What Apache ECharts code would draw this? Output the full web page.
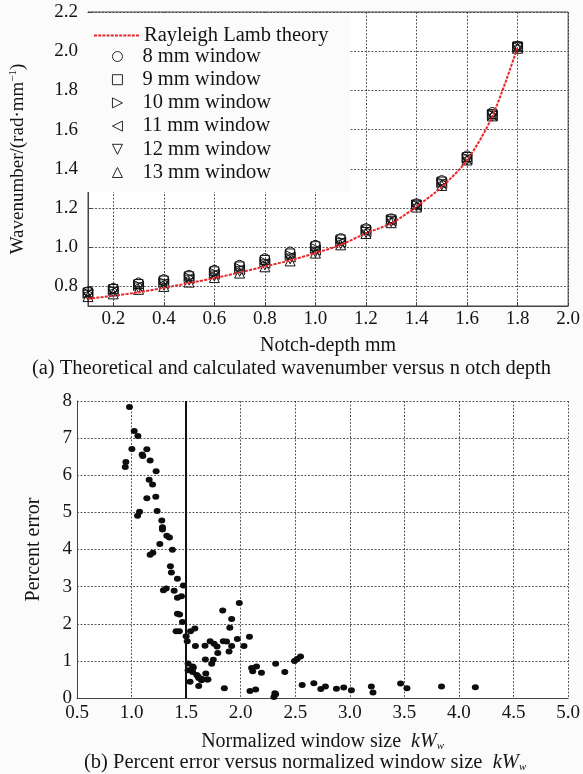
<!DOCTYPE html>
<html>
<head>
<meta charset="utf-8">
<script src="https://cdn.jsdelivr.net/npm/echarts@6/dist/echarts.min.js"></script>
<style>html,body{margin:0;padding:0;background:#fbfbfb;}#c{width:583px;height:774px;}</style>
</head>
<body>
<div id="c"></div>
<script>
// ---- Data (a) ----
var depth = [0.1,0.2,0.3,0.4,0.5,0.6,0.7,0.8,0.9,1.0,1.1,1.2,1.3,1.4,1.5,1.6,1.7,1.8];
var theory = [0.737,0.752,0.770,0.792,0.817,0.842,0.871,0.902,0.933,0.970,1.012,1.071,1.122,1.207,1.308,1.444,1.668,2.020];
var w8  = [0.775,0.792,0.820,0.837,0.859,0.885,0.910,0.944,0.978,1.012,1.046,1.097,1.147,1.224,1.342,1.468,1.690,2.028];
var w9  = [0.770,0.787,0.812,0.830,0.852,0.877,0.902,0.935,0.968,1.005,1.040,1.090,1.142,1.218,1.335,1.460,1.680,2.025];
var w10 = [0.765,0.780,0.805,0.820,0.845,0.868,0.893,0.925,0.958,0.995,1.032,1.085,1.138,1.215,1.330,1.455,1.675,2.020];
var w11 = [0.762,0.775,0.800,0.815,0.840,0.862,0.885,0.918,0.950,0.985,1.025,1.080,1.135,1.212,1.325,1.450,1.672,2.020];
var w12 = [0.755,0.770,0.792,0.808,0.832,0.853,0.877,0.910,0.940,0.975,1.018,1.075,1.130,1.210,1.318,1.445,1.670,2.018];
var w13 = [0.748,0.762,0.785,0.800,0.822,0.845,0.868,0.900,0.930,0.970,1.012,1.070,1.125,1.205,1.315,1.445,1.670,2.015];
var depthTicks = [0.2,0.4,0.6,0.8,1.0,1.2,1.4,1.6,1.8,2.0];
var waveTicks = [0.8,1.0,1.2,1.4,1.6,1.8,2.0,2.2];
var seriesNames = ['Rayleigh Lamb theory','8 mm window','9 mm window','10 mm window','11 mm window','12 mm window','13 mm window'];

// ---- Data (b) ----
var errX = [0.981,1.024,1.058,1.003,0.948,0.942,1.097,1.103,1.14,1.17,1.225,1.161,1.192,1.14,1.222,1.073,1.055,1.234,1.277,1.283,1.283,1.323,1.347,1.259,1.374,1.195,1.17,1.356,1.365,1.42,1.475,1.317,1.292,1.39,1.42,1.457,1.42,1.44,1.466,1.408,1.438,1.50,1.51,1.54,1.58,1.585,1.673,1.72,1.756,1.783,1.79,1.835,1.84,1.87,1.917,1.90,1.917,1.893,1.969,1.987,2.03,2.08,1.676,1.749,1.734,1.518,1.56,1.518,1.56,1.597,1.615,1.64,1.68,1.69,1.536,1.615,1.64,1.566,1.61,1.70,1.85,2.10,2.145,2.11,2.19,2.085,2.137,2.32,2.404,2.313,2.304,2.32,2.493,2.517,2.548,2.563,2.67,2.734,2.776,2.877,2.944,3.014,3.197,3.212,3.465,3.523,3.84,4.15];
var errY = [7.84,7.19,7.06,6.71,6.36,6.22,6.56,6.52,6.70,6.40,6.11,5.88,5.75,5.38,5.42,5.02,4.91,5.04,4.78,4.60,4.54,4.37,4.32,4.15,3.99,3.91,3.86,3.55,3.38,3.21,3.03,2.95,2.90,2.89,2.70,2.74,2.27,2.25,2.05,1.80,1.80,1.66,1.53,1.80,1.87,1.40,1.41,1.53,1.46,1.39,1.21,2.36,1.53,1.52,2.13,1.89,1.40,1.25,1.59,2.56,1.40,1.65,1.04,1.03,0.92,0.93,0.85,0.75,0.70,0.62,0.54,0.48,0.66,0.50,0.44,0.32,0.52,0.82,0.58,0.50,0.26,0.81,0.85,0.72,0.68,0.19,0.23,0.92,0.70,0.13,0.03,0.10,1.00,1.05,1.12,0.35,0.40,0.24,0.31,0.25,0.28,0.21,0.31,0.15,0.39,0.26,0.31,0.29];
var sizeTicks = [0.5,1.0,1.5,2.0,2.5,3.0,3.5,4.0,4.5,5.0];
var threshold = 1.5;

var FONT = 'Liberation Serif';
var TXT = '#141414';
var gridLine = {show:true, lineStyle:{color:'#333', type:[2,1.5], width:0.8}};

function pairs(xs, ys){ return xs.map(function(x,i){ return [x, ys[i]]; }); }

var markerDefs = [
  {name: seriesNames[1], data: w8,  symbol:'circle',   rot:0,   size:9,  icon:'circle'},
  {name: seriesNames[2], data: w9,  symbol:'rect',     rot:0,   size:9,  icon:'rect'},
  {name: seriesNames[3], data: w10, symbol:'triangle', rot:-90, size:10, icon:'path://M0,0L10,5L0,10Z'},
  {name: seriesNames[4], data: w11, symbol:'triangle', rot:90,  size:10, icon:'path://M10,0L0,5L10,10Z'},
  {name: seriesNames[5], data: w12, symbol:'triangle', rot:180, size:10, icon:'path://M0,0L10,0L5,10Z'},
  {name: seriesNames[6], data: w13, symbol:'triangle', rot:0,   size:10, icon:'triangle'}
];

var series = markerDefs.map(function(d){
  return {
    name: d.name, type:'scatter', xAxisIndex:0, yAxisIndex:0,
    symbol: d.symbol, symbolRotate: d.rot, symbolSize: d.size,
    itemStyle: {color:'rgba(255,255,255,0)', borderColor:'#111', borderWidth:1, opacity:1},
    data: pairs(depth, d.data), z: 3
  };
});
series.push({
  name: seriesNames[0], type:'line', xAxisIndex:0, yAxisIndex:0,
  symbol:'none', smooth:0.3,
  lineStyle:{color:'#e8282d', width:2, type:[3,1.2]},
  itemStyle:{color:'#e8282d'},
  data: pairs(depth, theory), z: 4
});
series.push({
  name:'err', type:'scatter', xAxisIndex:1, yAxisIndex:1,
  symbol:'circle', symbolSize:[7,6],
  itemStyle:{color:'#0d0d0d', opacity:1},
  data: pairs(errX, errY),
  markLine: {
    silent:true, symbol:'none', label:{show:false},
    lineStyle:{color:'#111', type:'solid', width:2},
    data:[{xAxis: threshold}]
  }
});

var legendText = {fontFamily:FONT, fontSize:20.5, color:TXT};

var option = {
  backgroundColor:'#fbfbfb',
  animation:false,
  grid:[
    {left:77, top:12, width:493, height:294, show:true, borderColor:'#444', borderWidth:1, backgroundColor:'#fff'},
    {left:77, top:401, width:492, height:297, show:true, borderColor:'transparent', borderWidth:0, backgroundColor:'#fff'}
  ],
  legend:[
    {left:93, top:25, orient:'vertical', padding:0, z:10,
     itemWidth:45, itemHeight:10,
     itemStyle:{opacity:0},
     textStyle:legendText,
     data:[seriesNames[0]]},
    {left:112, top:46, orient:'vertical', padding:0, z:10,
     itemWidth:10, itemHeight:10, itemGap:2.2,
     itemStyle:{borderWidth:0.9},
     textStyle:Object.assign({padding:[0,0,0,15]}, legendText),
     data: markerDefs.map(function(d){ return {name:d.name, icon:d.icon}; })}
  ],
  xAxis:[
    {gridIndex:0, type:'value', min:0.1, max:2.0,
     name:'Notch-depth mm', nameLocation:'middle', nameGap:30,
     nameTextStyle:{fontFamily:FONT, fontSize:20, color:TXT},
     axisLine:{show:true, lineStyle:{color:'#444'}},
     axisTick:{show:true, inside:true, length:4, customValues:depthTicks, lineStyle:{color:'#444'}},
     axisLabel:{customValues:depthTicks, fontFamily:FONT, fontSize:19, color:TXT, margin:4,
       formatter:function(v){return v.toFixed(1);}},
     splitLine:gridLine},
    {gridIndex:1, type:'value', min:0.5, max:5.0, interval:0.5,
     name:'Normalized window size  {i|kW}{s|w}', nameLocation:'middle', nameGap:33,
     nameTextStyle:{fontFamily:FONT, fontSize:20, color:TXT,
       rich:{i:{fontFamily:FONT, fontSize:20, fontStyle:'italic', color:TXT},
             s:{fontFamily:FONT, fontSize:11, fontStyle:'italic', color:TXT, padding:[10,0,0,0]}}},
     axisLine:{show:true, lineStyle:{color:'#444'}},
     axisTick:{show:false},
     axisLabel:{fontFamily:FONT, fontSize:19, color:TXT, margin:6,
       formatter:function(v){return v.toFixed(1);}},
     splitLine:gridLine}
  ],
  yAxis:[
    {gridIndex:0, type:'value', min:0.7, max:2.2,
     name:'Wavenumber/(rad·mm{s|−1})', nameLocation:'middle', nameGap:59,
     nameTextStyle:{fontFamily:FONT, fontSize:19, color:TXT,
       rich:{s:{fontFamily:FONT, fontSize:11, color:TXT, padding:[0,0,10,0]}}},
     axisLine:{show:true, lineStyle:{color:'#444'}},
     axisTick:{show:true, inside:true, length:4, customValues:waveTicks, lineStyle:{color:'#444'}},
     axisLabel:{customValues:waveTicks, fontFamily:FONT, fontSize:19, color:TXT, margin:10,
       formatter:function(v){return v.toFixed(1);}},
     splitLine:gridLine},
    {gridIndex:1, type:'value', min:0, max:8, interval:1,
     name:'Percent error', nameLocation:'middle', nameGap:33,
     nameTextStyle:{fontFamily:FONT, fontSize:20, color:TXT},
     axisLine:{show:true, lineStyle:{color:'#444'}},
     axisTick:{show:false},
     axisLabel:{fontFamily:FONT, fontSize:19, color:TXT, margin:5},
     splitLine:gridLine}
  ],
  graphic:[
    {type:'rect', left:78, top:13, z:5, silent:true,
     shape:{width:272, height:179}, style:{fill:'#fbfbfb'}},
    {type:'text', left:'center', top:358,
     style:{text:'(a) Theoretical and calculated wavenumber versus n otch depth', font:'20.5px "Liberation Serif"', fill:TXT}},
    {type:'text', left:84, top:752,
     style:{text:'(b) Percent error versus normalized window size  {i|kW}{s|w}', font:'20.5px "Liberation Serif"', fill:TXT,
       rich:{i:{fontFamily:FONT, fontSize:20.5, fontStyle:'italic', fill:TXT},
             s:{fontFamily:FONT, fontSize:11, fontStyle:'italic', fill:TXT, padding:[10,0,0,0]}}}}
  ],
  series: series
};

var chart = echarts.init(document.getElementById('c'), null, {renderer:'canvas'});
chart.setOption(option);
</script>
</body>
</html>
